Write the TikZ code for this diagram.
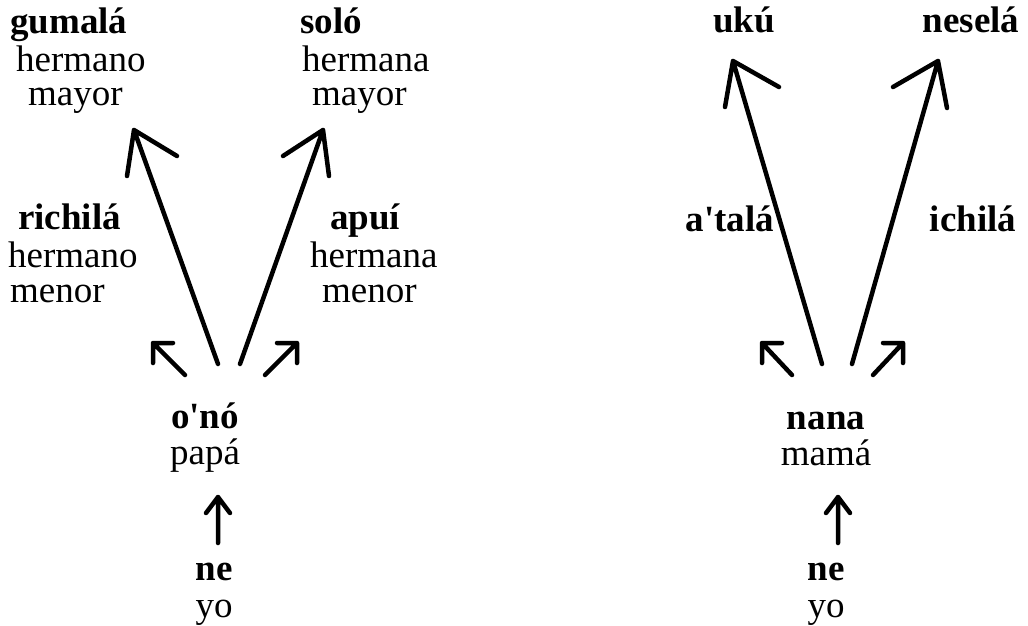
\documentclass[tikz,border=0pt]{standalone}
\usepackage{fontspec}
\setmainfont{Liberation Serif}
\begin{document}
\begin{tikzpicture}[x=1pt,y=-1pt,
  lbl/.style={font=\fontsize{37}{35}\selectfont, align=center, inner sep=0pt, anchor=base},
  lblL/.style={font=\fontsize{37}{35}\selectfont, align=left, inner sep=0pt, anchor=base west},
  arr/.style={line width=4.5pt, line cap=round, line join=round}]
\useasboundingbox (0,0) rectangle (1028,626);
% ---------- left group (anchor = baseline of last line) ----------
\node[lblL] (gum) at (10,106) {\textbf{gumalá}\\[3pt]\hspace*{6pt}hermano\\\hspace*{18pt}mayor};
\node[lblL] (solo) at (300,106) {\textbf{soló}\\[3pt]\hspace*{2pt}hermana\\\hspace*{12pt}mayor};
\node[lblL] (rich) at (8,302) {\hspace*{10pt}\textbf{richilá}\\[3pt]hermano\\\hspace*{2pt}menor};
\node[lblL] (apui) at (310,302) {\hspace*{20pt}\textbf{apuí}\\[3pt]hermana\\\hspace*{12pt}menor};
\node[lbl] (ono) at (205,464) {\textbf{o\textquotesingle nó}\\[1pt]papá};
\node[lbl] (neL) at (214,617) {\textbf{ne}\\[2pt]yo};
% arrow coordinates
\coordinate (gT) at (218,364); \coordinate (gH) at (134,130);
\coordinate (sT) at (240,364); \coordinate (sH) at (323,130);
\coordinate (rT) at (185,375); \coordinate (rH) at (153,343);
\coordinate (aT) at (265,375); \coordinate (aH) at (297,343);
\coordinate (uT) at (218,543); \coordinate (uH) at (218,497);
\draw[arr] (gT) -- (gH) (gH) -- ++(-7,46) (gH) -- ++(43,26);
\draw[arr] (sT) -- (sH) (sH) -- ++(-40,26) (sH) -- ++(6,46);
\draw[arr] (rT) -- (rH) (rH) -- ++(20,0) (rH) -- ++(0,20);
\draw[arr] (aT) -- (aH) (aH) -- ++(-20,0) (aH) -- ++(0,20);
\draw[arr] (uT) -- (uH) (uH) -- ++(-12,16) (uH) -- ++(12,16);
% ---------- right group ----------
\node[lbl] (uku) at (744,33) {\textbf{ukú}};
\node[lbl] (nese) at (971,33) {\textbf{neselá}};
\node[lbl] (atala) at (730,231) {\textbf{a\textquotesingle talá}};
\node[lbl] (ichi) at (973,231) {\textbf{ichilá}};
\node[lbl] (nana) at (826,465) {\textbf{nana}\\[1pt]mamá};
\node[lbl] (neR) at (826,617) {\textbf{ne}\\[2pt]yo};
\coordinate (kT) at (822,364); \coordinate (kH) at (733,61);
\coordinate (nT) at (852,364); \coordinate (nH) at (938,61);
\coordinate (pT) at (792,375); \coordinate (pH) at (762,343);
\coordinate (qT) at (873,375); \coordinate (qH) at (903,343);
\coordinate (vT) at (838,543); \coordinate (vH) at (838,497);
\draw[arr] (kT) -- (kH) (kH) -- ++(-8,46) (kH) -- ++(46,26);
\draw[arr] (nT) -- (nH) (nH) -- ++(-45,26) (nH) -- ++(9,47);
\draw[arr] (pT) -- (pH) (pH) -- ++(20,0) (pH) -- ++(0,20);
\draw[arr] (qT) -- (qH) (qH) -- ++(-20,0) (qH) -- ++(0,20);
\draw[arr] (vT) -- (vH) (vH) -- ++(-12,16) (vH) -- ++(12,16);
\end{tikzpicture}
\end{document}
